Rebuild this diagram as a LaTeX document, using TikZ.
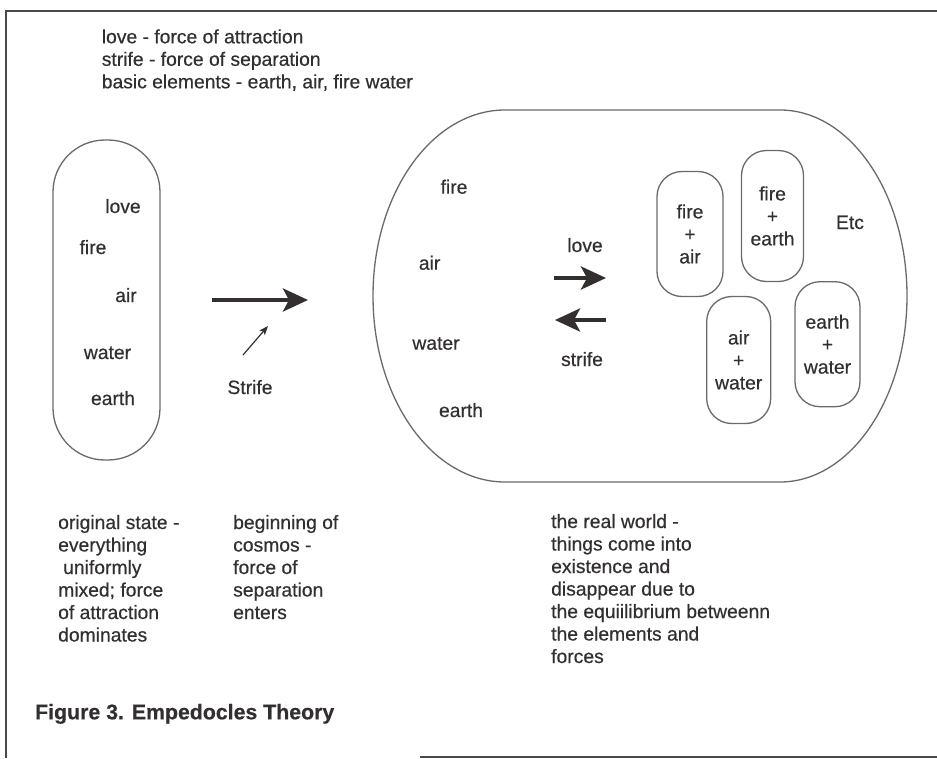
\documentclass[tikz,border=0pt]{standalone}
\usepackage{fontspec}
\setmainfont{Liberation Sans}[FakeBold=0.45]
\usetikzlibrary{arrows.meta}
\definecolor{ink}{HTML}{332F2F}
\definecolor{edgec}{HTML}{6A6A6A}
\definecolor{framec}{HTML}{4A4A4A}
\newcommand{\txtfont}{\fontsize{19.3}{22.5}\selectfont}
\tikzset{
  lbl/.style={anchor=base, inner sep=0pt, text=ink, font=\txtfont},
  block/.style={anchor=base west, inner sep=0pt, text=ink},
  pill/.style={draw=edgec, line width=1.3pt, rounded corners=25pt, inner sep=0pt,
    align=center, text=ink, font=\txtfont},
  outline/.style={draw=edgec, line width=1.3pt},
  framel/.style={draw=framec, line width=2pt},
  bigarrow/.style={draw=ink, line width=4pt, -{Stealth[length=25pt,width=23pt,inset=6pt]}},
  thinarrow/.style={draw=ink, line width=1.2pt, -{Stealth[length=9pt,width=7pt,inset=2pt]}}
}
\begin{document}
\begin{tikzpicture}[x=1pt,y=-1pt]
\useasboundingbox (0,0) rectangle (937,758);
\fill[white] (0,0) rectangle (937,758);
% frame
\draw[framel] (937,11) -- (6,11) -- (6,758);
\draw[framel] (420,756.5) -- (937,756.5);

% top legend
\node[block] (legend) at (101.6,43.3) {\parbox[t]{360pt}{\txtfont\raggedright
love - force of attraction\\
strife - force of separation\\
basic elements - earth, air, fire water}};

% left pill
\node[draw=edgec, line width=1.3pt, rounded corners=52pt, minimum width=107pt,
  minimum height=320pt, inner sep=0pt] (orig) at (106.5,300) {};
\node[lbl] (l1) at (123,213) {love};
\node[lbl] (l2) at (93,254) {fire};
\node[lbl] (l3) at (126,302) {air};
\node[lbl] (l4) at (107.5,359) {water};
\node[lbl] (l5) at (113,405) {earth};

% big arrow and strife
\coordinate (bigA) at (212,300);
\coordinate (bigB) at (308,300);
\draw[bigarrow] (bigA) -- (bigB);
\coordinate (sA) at (243,355);
\coordinate (sB) at (268,326);
\draw[thinarrow] (sA) -- (sB);
\node[lbl] (strifeL) at (250,394) {Strife};

% big world shape
\draw[outline] (505,110) -- (780,110)
  arc[start angle=270, end angle=360, x radius=127, y radius=186]
  arc[start angle=0, end angle=90, x radius=127, y radius=186]
  -- (505,482)
  arc[start angle=90, end angle=180, x radius=132, y radius=186]
  arc[start angle=180, end angle=270, x radius=132, y radius=186]
  -- cycle;

\node[lbl] (w1) at (454,193.7) {fire};
\node[lbl] (w2) at (429.6,269.7) {air};
\node[lbl] (w3) at (436,349.7) {water};
\node[lbl] (w4) at (461,417) {earth};

\node[lbl] (loveL) at (585,252) {love};
\node[lbl] (strifeW) at (582,366) {strife};
\coordinate (loveA) at (554,278);
\coordinate (loveB) at (606,278);
\coordinate (strA) at (606,320);
\coordinate (strB) at (555,320);
\draw[bigarrow] (loveA) -- (loveB);
\draw[bigarrow] (strA) -- (strB);

% combination pills
\node[pill, minimum width=66pt, minimum height=125pt] (fa) at (690,234) {fire\\+\\air};
\node[pill, minimum width=62pt, minimum height=131pt] (fe) at (772.5,216) {fire\\+\\earth};
\node[pill, minimum width=64pt, minimum height=127pt] (aw) at (738.7,360) {air\\+\\water};
\node[pill, minimum width=65pt, minimum height=125pt] (ew) at (827.5,344.2) {earth\\+\\water};
\node[lbl] (etc) at (850,229) {Etc};

% bottom captions
\node[block] (cap1) at (58,529) {\parbox[t]{160pt}{\txtfont\raggedright
original state -\\
everything\\
\hspace*{5pt}uniformly\\
mixed; force\\
of attraction\\
dominates}};
\node[block] (cap2) at (233,529) {\parbox[t]{160pt}{\txtfont\raggedright
beginning of\\
cosmos -\\
force of\\
separation\\
enters}};
\node[block] (cap3) at (551,528) {\parbox[t]{280pt}{\txtfont\raggedright
the real world -\\
things come into\\
existence and\\
disappear due to\\
the equiilibrium betweenn\\
the elements and\\
forces}};

% title
\node[block, font=\bfseries\fontsize{21.3}{25}\selectfont] (title) at (35,719.3)
  {Figure 3. Empedocles Theory};
\end{tikzpicture}
\end{document}
